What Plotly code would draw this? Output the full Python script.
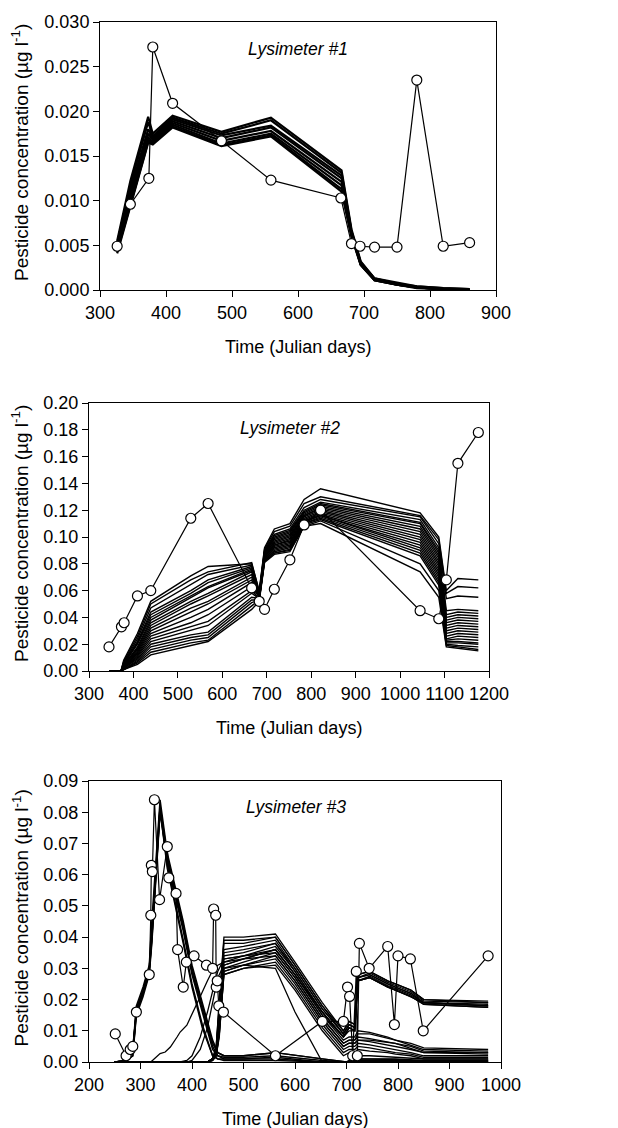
import plotly.graph_objects as go

# ---------------- Lysimeter #1 ----------------
obs1_x = [326, 346, 374, 380, 410, 484, 559, 665, 681, 694, 716, 750, 780, 820, 860]
obs1_y = [0.0049, 0.0096, 0.0125, 0.0272, 0.0209, 0.0167, 0.0123, 0.0103, 0.0052, 0.0049, 0.0048, 0.0048, 0.0235, 0.0049, 0.0053]

sim1_x = [326, 346, 373, 380, 410, 484, 559, 666, 681, 695, 716, 750, 780, 820, 860]
sim1 = [
    [0.0055, 0.0122, 0.0194, 0.0175, 0.0195, 0.0177, 0.0193, 0.0134, 0.0068, 0.0032, 0.0013, 0.0008, 0.0004, 0.0002, 0.0001],
    [0.0052, 0.0117, 0.0188, 0.0172, 0.0193, 0.0175, 0.0190, 0.0131, 0.0066, 0.0031, 0.0013, 0.0007, 0.0004, 0.0002, 0.0001],
    [0.0050, 0.0112, 0.0180, 0.0170, 0.0191, 0.0173, 0.0184, 0.0128, 0.0065, 0.0030, 0.0012, 0.0007, 0.0003, 0.0001, 0.0001],
    [0.0048, 0.0107, 0.0175, 0.0168, 0.0189, 0.0170, 0.0182, 0.0125, 0.0064, 0.0030, 0.0012, 0.0007, 0.0003, 0.0001, 0.0000],
    [0.0046, 0.0102, 0.0171, 0.0166, 0.0187, 0.0167, 0.0178, 0.0121, 0.0063, 0.0029, 0.0012, 0.0006, 0.0003, 0.0001, 0.0000],
    [0.0045, 0.0099, 0.0168, 0.0165, 0.0185, 0.0164, 0.0175, 0.0117, 0.0062, 0.0029, 0.0011, 0.0006, 0.0003, 0.0001, 0.0000],
    [0.0043, 0.0096, 0.0166, 0.0164, 0.0183, 0.0162, 0.0173, 0.0113, 0.0061, 0.0028, 0.0011, 0.0006, 0.0003, 0.0001, 0.0000],
    [0.0041, 0.0093, 0.0165, 0.0163, 0.0182, 0.0161, 0.0172, 0.0110, 0.0060, 0.0028, 0.0011, 0.0006, 0.0002, 0.0001, 0.0000],
]

# ---------------- Lysimeter #2 ----------------
obs2_x = [345, 373, 379, 409, 439, 529, 568, 666, 683, 695, 717, 752, 784, 821, 1045, 1087, 1104, 1130, 1176]
obs2_y = [0.018, 0.033, 0.036, 0.056, 0.060, 0.114, 0.125, 0.062, 0.052, 0.046, 0.061, 0.083, 0.109, 0.120, 0.045, 0.039, 0.068, 0.155, 0.178]

sim2_x = [345, 372, 378, 409, 439, 529, 568, 666, 683, 695, 717, 752, 784, 821, 1045, 1087, 1104, 1130, 1176]
sim2 = [
    [0, 0, 0.008, 0.028, 0.052, 0.071, 0.078, 0.080, 0.060, 0.092, 0.106, 0.110, 0.128, 0.136, 0.118, 0.100, 0.060, 0.069, 0.068],
    [0, 0, 0.007, 0.026, 0.050, 0.068, 0.074, 0.081, 0.059, 0.091, 0.104, 0.108, 0.125, 0.130, 0.116, 0.098, 0.058, 0.063, 0.062],
    [0, 0, 0.006, 0.024, 0.047, 0.064, 0.072, 0.079, 0.058, 0.090, 0.102, 0.106, 0.122, 0.128, 0.115, 0.095, 0.054, 0.056, 0.055],
    [0, 0, 0.006, 0.022, 0.044, 0.060, 0.068, 0.078, 0.058, 0.089, 0.101, 0.105, 0.120, 0.126, 0.113, 0.092, 0.045, 0.046, 0.045],
    [0, 0, 0.005, 0.021, 0.042, 0.058, 0.066, 0.077, 0.057, 0.089, 0.100, 0.104, 0.119, 0.125, 0.111, 0.090, 0.042, 0.044, 0.043],
    [0, 0, 0.005, 0.020, 0.040, 0.056, 0.063, 0.076, 0.057, 0.088, 0.099, 0.103, 0.118, 0.124, 0.110, 0.088, 0.040, 0.042, 0.041],
    [0, 0, 0.004, 0.018, 0.038, 0.055, 0.062, 0.075, 0.057, 0.088, 0.098, 0.102, 0.117, 0.123, 0.108, 0.086, 0.038, 0.040, 0.039],
    [0, 0, 0.004, 0.017, 0.036, 0.052, 0.058, 0.074, 0.056, 0.087, 0.097, 0.101, 0.116, 0.122, 0.106, 0.084, 0.036, 0.038, 0.037],
    [0, 0, 0.004, 0.016, 0.034, 0.050, 0.056, 0.072, 0.056, 0.087, 0.096, 0.100, 0.116, 0.121, 0.104, 0.082, 0.034, 0.036, 0.035],
    [0, 0, 0.003, 0.015, 0.032, 0.047, 0.052, 0.070, 0.056, 0.086, 0.095, 0.099, 0.115, 0.120, 0.102, 0.080, 0.032, 0.034, 0.033],
    [0, 0, 0.003, 0.014, 0.030, 0.044, 0.050, 0.068, 0.055, 0.086, 0.094, 0.098, 0.114, 0.119, 0.100, 0.078, 0.030, 0.032, 0.031],
    [0, 0, 0.003, 0.013, 0.028, 0.040, 0.046, 0.066, 0.055, 0.085, 0.094, 0.097, 0.113, 0.118, 0.098, 0.076, 0.028, 0.030, 0.029],
    [0, 0, 0.002, 0.012, 0.026, 0.036, 0.042, 0.063, 0.055, 0.085, 0.093, 0.096, 0.112, 0.117, 0.096, 0.074, 0.026, 0.028, 0.027],
    [0, 0, 0.002, 0.011, 0.024, 0.033, 0.037, 0.060, 0.054, 0.084, 0.092, 0.095, 0.112, 0.116, 0.094, 0.072, 0.024, 0.026, 0.025],
    [0, 0, 0.002, 0.010, 0.022, 0.030, 0.034, 0.058, 0.054, 0.084, 0.091, 0.094, 0.111, 0.116, 0.092, 0.070, 0.023, 0.024, 0.023],
    [0, 0, 0.002, 0.009, 0.020, 0.027, 0.029, 0.055, 0.054, 0.083, 0.090, 0.093, 0.110, 0.115, 0.090, 0.068, 0.022, 0.022, 0.021],
    [0, 0, 0.001, 0.008, 0.018, 0.025, 0.027, 0.053, 0.053, 0.083, 0.089, 0.092, 0.110, 0.114, 0.088, 0.066, 0.021, 0.021, 0.020],
    [0, 0, 0.001, 0.007, 0.016, 0.023, 0.025, 0.051, 0.053, 0.082, 0.088, 0.091, 0.109, 0.113, 0.086, 0.064, 0.020, 0.019, 0.018],
    [0, 0, 0.001, 0.006, 0.014, 0.021, 0.023, 0.048, 0.053, 0.082, 0.088, 0.090, 0.108, 0.112, 0.080, 0.060, 0.019, 0.018, 0.016],
    [0, 0, 0.001, 0.005, 0.012, 0.019, 0.022, 0.046, 0.052, 0.081, 0.087, 0.089, 0.108, 0.110, 0.074, 0.055, 0.018, 0.017, 0.015],
]

# ---------------- Lysimeter #3 ----------------
obs3_x = [251, 272, 280, 285, 292, 317, 320, 321, 323, 327, 337, 352, 355, 369, 372, 383, 389, 404, 428, 440,
          442, 446, 447, 449, 452, 461, 562, 653, 694, 702, 706, 712, 719, 721, 725, 744, 780, 793, 800, 824, 849, 975]
obs3_y = [0.009, 0.002, 0.004, 0.005, 0.016, 0.028, 0.047, 0.063, 0.061, 0.084, 0.052, 0.069, 0.059, 0.054, 0.036,
          0.024, 0.032, 0.034, 0.031, 0.030, 0.049, 0.047, 0.024, 0.026, 0.018, 0.016, 0.002, 0.013, 0.013, 0.024,
          0.021, 0.002, 0.029, 0.002, 0.038, 0.030, 0.037, 0.012, 0.034, 0.033, 0.010, 0.034]

sim3_early_x = [250, 270, 285, 292, 305, 317, 322, 330, 338, 352, 369, 383, 400, 420, 440, 450, 462, 500, 562, 653, 700, 722, 745, 795, 850, 975]
sim3_early = [
    [0, 0.0005, 0.004, 0.018, 0.024, 0.031, 0.045, 0.065, 0.084, 0.067, 0.055, 0.045, 0.031, 0.019, 0.007, 0.003, 0.002, 0.002, 0.003, 0.001, 0, 0.002, 0.002, 0.0015, 0.001, 0.001],
    [0, 0.0005, 0.003, 0.017, 0.023, 0.030, 0.042, 0.062, 0.082, 0.066, 0.054, 0.044, 0.030, 0.018, 0.006, 0.003, 0.002, 0.002, 0.003, 0.001, 0, 0.001, 0.001, 0.001, 0.0005, 0.0005],
    [0, 0.0003, 0.003, 0.016, 0.022, 0.029, 0.040, 0.060, 0.081, 0.065, 0.053, 0.043, 0.029, 0.017, 0.005, 0.002, 0.0015, 0.0015, 0.002, 0.0005, 0, 0.0005, 0.0005, 0.0005, 0.0003, 0.0003],
    [0, 0.0003, 0.002, 0.015, 0.021, 0.028, 0.038, 0.058, 0.080, 0.064, 0.052, 0.042, 0.028, 0.016, 0.004, 0.002, 0.001, 0.001, 0.0015, 0, 0, 0, 0, 0, 0, 0],
    [0, 0.0003, 0.003, 0.017, 0.023, 0.030, 0.040, 0.060, 0.082, 0.063, 0.050, 0.039, 0.025, 0.012, 0.002, 0.001, 0.001, 0.001, 0.001, 0, 0, 0, 0, 0, 0, 0],
    [0, 0.0003, 0.002, 0.016, 0.022, 0.029, 0.039, 0.059, 0.081, 0.062, 0.049, 0.038, 0.024, 0.011, 0.002, 0.001, 0.0005, 0.0005, 0.0005, 0, 0, 0, 0, 0, 0, 0],
]

sim3_late_x = [250, 400, 430, 440, 447, 453, 462, 500, 562, 600, 653, 694, 705, 716, 722, 745, 780, 795, 825, 850, 975]
sim3_late = [
    [0, 0, 0, 0.001, 0.005, 0.020, 0.040, 0.040, 0.041, 0.032, 0.019, 0.010, 0.013, 0.012, 0.028, 0.029, 0.026, 0.025, 0.023, 0.020, 0.0195],
    [0, 0, 0, 0.001, 0.005, 0.019, 0.039, 0.039, 0.040, 0.031, 0.018, 0.010, 0.013, 0.012, 0.028, 0.029, 0.026, 0.025, 0.023, 0.020, 0.019],
    [0, 0, 0, 0.001, 0.004, 0.018, 0.038, 0.038, 0.040, 0.031, 0.018, 0.009, 0.012, 0.011, 0.027, 0.0285, 0.0255, 0.0245, 0.0225, 0.0195, 0.019],
    [0, 0, 0, 0.001, 0.004, 0.017, 0.036, 0.037, 0.039, 0.030, 0.017, 0.009, 0.012, 0.011, 0.027, 0.028, 0.025, 0.024, 0.022, 0.019, 0.0185],
    [0, 0, 0, 0.001, 0.004, 0.016, 0.035, 0.036, 0.038, 0.030, 0.017, 0.009, 0.012, 0.011, 0.027, 0.028, 0.025, 0.024, 0.022, 0.019, 0.018],
    [0, 0, 0, 0.001, 0.003, 0.015, 0.034, 0.035, 0.038, 0.029, 0.016, 0.008, 0.011, 0.010, 0.026, 0.0275, 0.0245, 0.0235, 0.0215, 0.019, 0.018],
    [0, 0, 0, 0.001, 0.003, 0.014, 0.033, 0.034, 0.037, 0.029, 0.016, 0.008, 0.011, 0.010, 0.026, 0.027, 0.024, 0.023, 0.021, 0.0185, 0.0175],
    [0, 0, 0, 0.001, 0.003, 0.013, 0.032, 0.033, 0.036, 0.028, 0.015, 0.008, 0.011, 0.010, 0.026, 0.027, 0.024, 0.023, 0.021, 0.0185, 0.0175],
    [0, 0, 0, 0.001, 0.003, 0.013, 0.031, 0.033, 0.036, 0.028, 0.015, 0.007, 0.008, 0.008, 0.010, 0.0095, 0.008, 0.007, 0.006, 0.0045, 0.004],
    [0, 0, 0, 0.001, 0.003, 0.012, 0.030, 0.032, 0.035, 0.027, 0.014, 0.006, 0.007, 0.007, 0.008, 0.0075, 0.0065, 0.006, 0.005, 0.0035, 0.003],
    [0, 0, 0, 0.001, 0.002, 0.011, 0.030, 0.031, 0.034, 0.026, 0.013, 0.005, 0.006, 0.006, 0.007, 0.0065, 0.0055, 0.005, 0.004, 0.003, 0.0025],
    [0, 0, 0, 0.001, 0.002, 0.010, 0.029, 0.031, 0.033, 0.025, 0.012, 0.004, 0.005, 0.005, 0.006, 0.0055, 0.0045, 0.004, 0.003, 0.002, 0.002],
    [0, 0, 0, 0.0005, 0.002, 0.009, 0.028, 0.030, 0.032, 0.024, 0.011, 0.003, 0.004, 0.004, 0.005, 0.0045, 0.0035, 0.003, 0.0025, 0.0015, 0.0015],
    [0, 0, 0, 0.0005, 0.002, 0.009, 0.028, 0.030, 0.031, 0.023, 0.010, 0.002, 0.003, 0.003, 0.004, 0.0035, 0.003, 0.0025, 0.002, 0.001, 0.001],
    [0, 0, 0, 0.0005, 0.002, 0.008, 0.029, 0.031, 0.030, 0.016, 0, 0, 0, 0, 0.001, 0.001, 0.001, 0.0008, 0.0005, 0.0005, 0.0005],
]

sim3_rise_x = [320, 338, 348, 358, 371, 377, 390, 400, 416, 430, 442, 450, 462, 500, 562, 600, 653, 694, 705, 716, 722, 745, 795, 850, 975]
sim3_rise = [
    [0, 0.0027, 0.0032, 0.0048, 0.008, 0.0096, 0.0118, 0.0155, 0.021, 0.026, 0.030, 0.031, 0.032, 0.034, 0.036, 0.028, 0.016, 0.008, 0.010, 0.010, 0.026, 0.027, 0.023, 0.019, 0.018],
    [0, 0, 0, 0, 0, 0, 0.0005, 0.002, 0.008, 0.016, 0.024, 0.029, 0.033, 0.034, 0.035, 0.027, 0.014, 0.006, 0.007, 0.007, 0.009, 0.009, 0.007, 0.004, 0.0035],
    [0, 0, 0, 0, 0, 0, 0, 0.0005, 0.004, 0.011, 0.020, 0.027, 0.031, 0.033, 0.034, 0.026, 0.013, 0.005, 0.006, 0.006, 0.007, 0.007, 0.006, 0.003, 0.003],
]

panel_labels = ["Lysimeter #1", "Lysimeter #2", "Lysimeter #3"]
x_title = "Time (Julian days)"
y_title = "Pesticide concentration (µg l<sup>-1</sup>)"

FONT = "Liberation Sans, Arial, sans-serif"
fig = go.Figure()


def add_sim(xs, ys_list, ax, width):
    for ys in ys_list:
        fig.add_trace(go.Scatter(x=xs, y=ys, mode="lines", xaxis=ax[0], yaxis=ax[1],
                                 line=dict(color="black", width=width), hoverinfo="skip", showlegend=False))


def add_obs(xs, ys, ax):
    fig.add_trace(go.Scatter(x=xs, y=ys, mode="lines+markers", xaxis=ax[0], yaxis=ax[1],
                             line=dict(color="black", width=1.2),
                             marker=dict(size=10, color="white", line=dict(color="black", width=1.2)),
                             showlegend=False))


add_sim(sim1_x, sim1, ("x", "y"), 2.2)
add_obs(obs1_x, obs1_y, ("x", "y"))
add_sim(sim2_x, sim2, ("x2", "y2"), 1.4)
add_obs(obs2_x, obs2_y, ("x2", "y2"))
add_sim(sim3_early_x, sim3_early, ("x3", "y3"), 1.5)
add_sim(sim3_late_x, sim3_late, ("x3", "y3"), 1.3)
add_sim(sim3_rise_x, sim3_rise, ("x3", "y3"), 1.3)
add_obs(obs3_x, obs3_y, ("x3", "y3"))

W, H = 618, 1128


def xd(a, b):
    return [a / W, b / W]


def yd(top, bottom):
    return [1 - bottom / H, 1 - top / H]


axis_common = dict(showline=True, linecolor="black", linewidth=1, mirror=True, ticks="outside",
                   ticklen=6, tickwidth=1, tickcolor="black", showgrid=False, zeroline=False,
                   automargin=False, tickfont=dict(family=FONT, size=18, color="black"))

panels = [  # (x-left, x-right, y-top, y-bottom) in pixels
    (100, 496, 22, 290),
    (89, 489, 403, 671),
    (89, 501, 781, 1062),
]

fig.update_layout(
    width=W, height=H, margin=dict(l=0, r=0, t=0, b=0),
    paper_bgcolor="white", plot_bgcolor="white", showlegend=False,
    font=dict(family=FONT, color="black"),
    xaxis=dict(domain=xd(100, 496), range=[300, 900], dtick=100, anchor="y", **axis_common),
    yaxis=dict(domain=yd(22, 290), range=[0, 0.030], dtick=0.005, tickformat=".3f", anchor="x", **axis_common),
    xaxis2=dict(domain=xd(89, 489), range=[300, 1200], dtick=100, anchor="y2", **axis_common),
    yaxis2=dict(domain=yd(403, 671), range=[0, 0.20], dtick=0.02, tickformat=".2f", anchor="x2", **axis_common),
    xaxis3=dict(domain=xd(89, 501), range=[200, 1000], dtick=100, anchor="y3", **axis_common),
    yaxis3=dict(domain=yd(781, 1062), range=[0, 0.09], dtick=0.01, tickformat=".2f", anchor="x3", **axis_common),
)

label_pos = [(298, 49), (290, 428), (296, 807)]
for txt, (px, py) in zip(panel_labels, label_pos):
    fig.add_annotation(text="<i>" + txt + "</i>", x=px / W, y=1 - py / H, xref="paper", yref="paper",
                       showarrow=False, xanchor="center", yanchor="middle",
                       font=dict(family=FONT, size=17.5, color="black"))

for (xl, xr, yt, yb) in panels:
    # x-axis title
    fig.add_annotation(text=x_title, x=(xl + xr) / 2 / W, y=1 - (yb + 57) / H, xref="paper", yref="paper",
                       showarrow=False, xanchor="center", yanchor="middle",
                       font=dict(family=FONT, size=18, color="black"))
    # y-axis title
    fig.add_annotation(text=y_title, x=20 / W, y=1 - ((yt + yb) / 2 - 3) / H, xref="paper", yref="paper",
                       showarrow=False, xanchor="center", yanchor="middle", textangle=-90,
                       font=dict(family=FONT, size=19, color="black"))

fig.write_html("out.html")
